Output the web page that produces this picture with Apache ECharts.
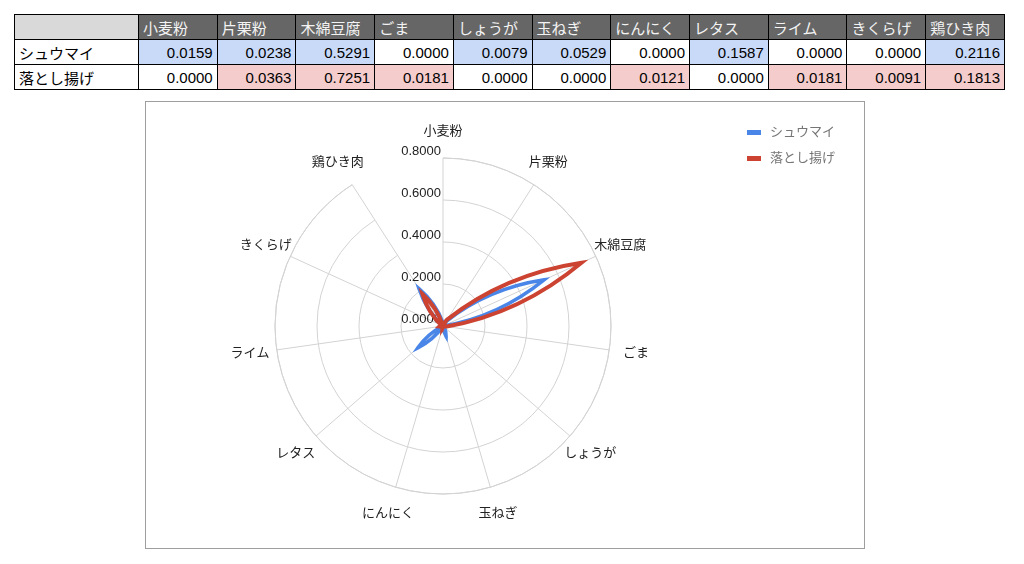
<!DOCTYPE html>
<html>
<head>
<meta charset="utf-8">
<script src="https://cdn.jsdelivr.net/npm/echarts@6/dist/echarts.min.js"></script>
<style>
  body { margin: 0; background: #fff; font-family: "Liberation Sans", "Noto Sans CJK JP", sans-serif; }
  #tbl { position: absolute; left: 14px; top: 14px; border-collapse: collapse; table-layout: fixed; width: 991px; }
  #tbl td { border: 1px solid #000; height: 24px; padding: 0 4px; font-size: 15px; color: #000; white-space: nowrap; overflow: hidden; }
  #tbl .hd { background: #666; color: #f3f3f3; text-align: left; }
  #tbl .corner { background: #d9d9d9; }
  #tbl .num { text-align: right; }
  #chart { position: absolute; left: 145px; top: 101px; width: 720px; height: 448px; border: 1px solid #9e9e9e; box-sizing: border-box; }
</style>
</head>
<body>
<table id="tbl"></table>
<div id="chart"></div>
<script>
// 食材
const categories = ["小麦粉", "片栗粉", "木綿豆腐", "ごま", "しょうが", "玉ねぎ", "にんにく", "レタス", "ライム", "きくらげ", "鶏ひき肉"];
const seriesNames = ["シュウマイ", "落とし揚げ"];
const shumai = [0.0159, 0.0238, 0.5291, 0.0000, 0.0079, 0.0529, 0.0000, 0.1587, 0.0000, 0.0000, 0.2116];
const otoshiage = [0.0000, 0.0363, 0.7251, 0.0181, 0.0000, 0.0000, 0.0121, 0.0000, 0.0181, 0.0091, 0.1813];
const colors = ["#4a86e8", "#cc4331"];
const cellColors = ["#c9daf8", "#f4cccc"];
const RMAX = 0.8;
const LABEL_R = RMAX * 1.16; // 軸ラベルの位置（外周の少し外）
const BEND = 0.7;            // 曲線のふくらみ (0 = 直線)

// 表
function renderTable() {
    let rows = [shumai, otoshiage];
    let html = `<colgroup><col style="width:124px">` + categories.map(() => `<col>`).join("") + `</colgroup>`;
    html += `<tr><td class="corner"></td>` + categories.map(c => `<td class="hd">${c}</td>`).join("") + `</tr>`;
    rows.forEach((r, k) => {
        html += `<tr><td>${seriesNames[k]}</td>` +
            r.map(v => `<td class="num" style="background:${v > 0 ? cellColors[k] : '#fff'}">${v.toFixed(4)}</td>`).join("") +
            `</tr>`;
    });
    document.getElementById("tbl").innerHTML = html;
}
renderTable();

// 極座標に沿って曲げた閉じた曲線
function closedCurve(pts, ctr, angs) {
    let n = pts.length;
    let rad = pts.map(p => Math.hypot(p[0] - ctr[0], p[1] - ctr[1]));
    let path = "M" + pts[0][0] + " " + pts[0][1];
    for (let i = 0; i < n; i++) {
        let j = (i + 1) % n;
        let da = angs[j] - angs[i];
        while (da > Math.PI) da -= 2 * Math.PI;
        while (da <= -Math.PI) da += 2 * Math.PI;
        let cp = [1 / 3, 2 / 3].map(s => {
            let a = angs[i] + s * da, r = rad[i] + s * (rad[j] - rad[i]);
            let px = ctr[0] + r * Math.cos(a), py = ctr[1] + r * Math.sin(a);
            let lx = pts[i][0] + s * (pts[j][0] - pts[i][0]), ly = pts[i][1] + s * (pts[j][1] - pts[i][1]);
            return [lx + BEND * (px - lx), ly + BEND * (py - ly)];
        });
        path += " C" + cp[0][0] + " " + cp[0][1] + " " + cp[1][0] + " " + cp[1][1] + " " + pts[j][0] + " " + pts[j][1];
    }
    return path + " Z";
}

function radarSeries(name, vals, color, width) {
    return {
        name: name,
        type: "custom",
        coordinateSystem: "polar",
        itemStyle: { color: color },
        z: 3,
        data: vals.map((v, i) => [v, i]),
        renderItem: (params, api) => {
            if (params.dataIndex !== 0) return null;
            let c0 = api.coord([0, 0]);
            let ctr = [c0[0], c0[1]];
            let angs = vals.map((v, i) => {
                let e = api.coord([RMAX, i]);
                return Math.atan2(e[1] - ctr[1], e[0] - ctr[0]);
            });
            let pts = vals.map((v, i) => {
                let c = api.coord([v, i]);
                return [c[0], c[1]];
            });
            return {
                type: "path",
                shape: { pathData: closedCurve(pts, ctr, angs) },
                style: { fill: "none", stroke: color, lineWidth: width, lineJoin: "miter", miterLimit: 10 }
            };
        }
    };
}

// 項目名ラベル（中心揃え）
const labelSeries = {
    type: "custom",
    coordinateSystem: "polar",
    silent: true,
    data: categories.map((c, i) => [0, i]),
    renderItem: (params, api) => {
        let i = params.dataIndex;
        let c = api.coord([LABEL_R, i]);
        return {
            type: "text",
            x: c[0],
            y: c[1],
            style: {
                text: categories[i],
                align: "center",
                verticalAlign: "middle",
                fill: "#222",
                fontSize: 13,
                fontFamily: "Liberation Sans, Noto Sans CJK JP, sans-serif"
            }
        };
    }
};

let chart = echarts.init(document.getElementById("chart"));
chart.setOption({
    textStyle: { fontFamily: "Liberation Sans, Noto Sans CJK JP, sans-serif" },
    color: colors,
    legend: {
        orient: "vertical",
        left: 596,
        top: 19,
        itemWidth: 14,
        itemHeight: 5,
        itemGap: 13,
        icon: "rect",
        textStyle: { color: "#757575", fontSize: 13, padding: [0, 0, 0, 4] },
        data: seriesNames
    },
    polar: { center: [297, 224], radius: 168 },
    angleAxis: {
        type: "category",
        data: categories,
        boundaryGap: false,
        startAngle: 90,
        axisLine: { lineStyle: { color: "#d3d3d3" } },
        axisTick: { show: false },
        axisLabel: { show: false },
        splitLine: { show: true, lineStyle: { color: "#d3d3d3" } }
    },
    radiusAxis: {
        min: 0,
        max: RMAX,
        interval: 0.2,
        axisLine: { show: false },
        axisTick: { show: false },
        axisLabel: { color: "#222", fontSize: 13, margin: 2, verticalAlign: "bottom", formatter: v => v.toFixed(4) },
        splitLine: { lineStyle: { color: "#d3d3d3" } }
    },
    series: [
        radarSeries(seriesNames[0], shumai, colors[0], 3.5),
        radarSeries(seriesNames[1], otoshiage, colors[1], 4),
        labelSeries
    ]
});
</script>
</body>
</html>
